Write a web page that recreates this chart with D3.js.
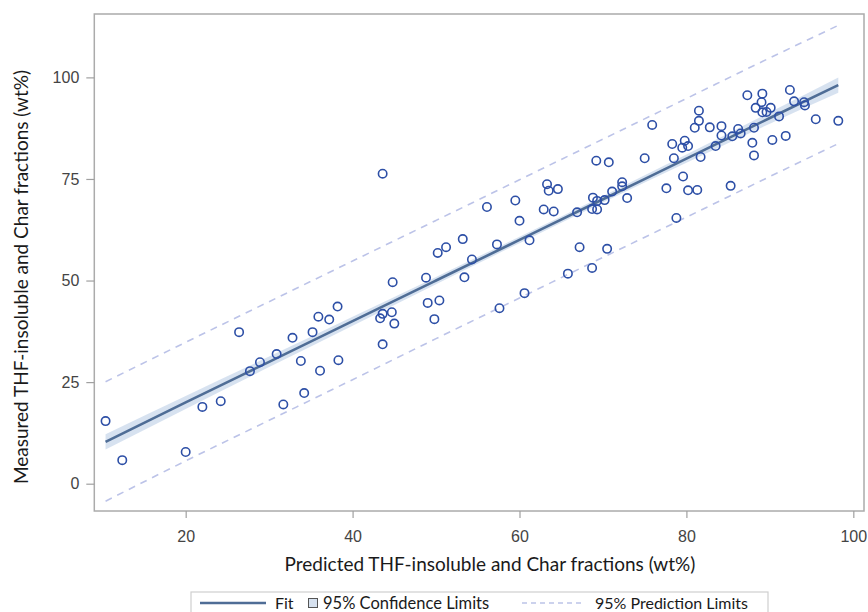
<!DOCTYPE html>
<html>
<head>
<meta charset="utf-8">
<script src="https://cdn.jsdelivr.net/npm/d3@7"></script>
<style>
  body { margin: 0; background: #fff; }
  #chart text { font-family: "Liberation Sans", Arial, sans-serif; }
  .axis-title, .legend-label { font-family: Lato, "Open Sans", sans-serif !important; fill: #1a1a1a; }
</style>
</head>
<body>
<div id="chart"></div>
<script>
// observed points: predicted (x) vs measured (y), wt%
const predicted = [10.4, 12.4, 20.0, 22.0, 24.2, 26.4, 27.7, 28.9, 30.9, 31.7,
  32.8, 33.8, 34.2, 35.2, 35.9, 36.1, 37.2, 38.2, 38.3, 43.6,
  43.6, 43.3, 44.7, 45.0, 43.6, 44.8, 48.8, 49.0, 50.4, 49.8,
  50.2, 51.2, 53.2, 53.4, 54.3, 56.1, 57.3, 57.6, 59.5, 60.0,
  60.6, 61.2, 62.9, 64.1, 63.3, 63.5, 64.6, 65.8, 66.9, 67.2,
  68.7, 68.7, 69.3, 68.8, 69.3, 70.2, 69.2, 70.7, 70.5, 71.1,
  72.3, 72.3, 72.9, 75.0, 75.9, 77.6, 78.3, 78.5, 78.8, 79.5,
  79.8, 80.2, 79.6, 80.2, 81.3, 81.0, 81.5, 81.5, 81.7, 82.8,
  83.5, 84.2, 84.2, 85.3, 85.5, 86.2, 86.5, 87.3, 87.9, 88.1,
  88.1, 88.3, 89.0, 89.1, 89.1, 89.6, 90.1, 90.3, 91.1, 91.9,
  92.4, 92.9, 94.1, 94.2, 95.5, 98.2];
const measured = [15.4, 5.8, 7.8, 18.9, 20.3, 37.3, 27.7, 29.9, 31.9, 19.5,
  35.9, 30.2, 22.3, 37.3, 41.1, 27.8, 40.4, 43.6, 30.4, 76.3,
  41.8, 40.7, 42.2, 39.4, 34.3, 49.6, 50.7, 44.5, 45.1, 40.5,
  56.8, 58.2, 60.2, 50.8, 55.2, 68.1, 58.9, 43.2, 69.7, 64.7,
  46.9, 59.9, 67.5, 67.0, 73.7, 72.1, 72.5, 51.7, 66.8, 58.2,
  53.1, 67.6, 67.5, 70.4, 69.6, 69.8, 79.5, 79.1, 57.8, 71.9,
  74.2, 73.2, 70.3, 80.1, 88.3, 72.7, 83.6, 80.1, 65.4, 82.7,
  84.4, 83.1, 75.6, 72.2, 72.3, 87.6, 91.8, 89.3, 80.4, 87.7,
  83.1, 88.0, 85.7, 73.3, 85.5, 87.3, 86.2, 95.6, 83.9, 87.6,
  80.8, 92.5, 93.9, 96.0, 91.4, 91.5, 92.5, 84.6, 90.4, 85.6,
  96.9, 94.1, 93.9, 93.1, 89.7, 89.3];

// regression fit and limits, read at these x positions
const bandX  = [10.4, 20, 30, 40, 50, 60, 70, 80, 90, 98.2];
const fitY   = [10.3, 20.0, 30.0, 40.0, 50.0, 60.0, 70.0, 80.0, 90.0, 98.1];
const confLo = [8.4, 18.4, 28.7, 38.9, 49.1, 59.2, 69.2, 79.0, 88.6, 96.2];
const confHi = [12.2, 21.6, 31.3, 41.1, 50.9, 60.8, 70.8, 81.0, 91.4, 100.0];
const predLo = [-4.3, 5.6, 15.6, 25.6, 35.7, 45.7, 55.7, 65.6, 75.6, 83.7];
const predHi = [25.1, 34.8, 44.8, 54.8, 64.8, 74.8, 84.8, 94.8, 104.8, 112.8];

const xTicks = [20, 40, 60, 80, 100];
const yTicks = [0, 25, 50, 75, 100];
const xTitle = 'Predicted THF-insoluble and Char fractions (wt%)';
const yTitle = 'Measured THF-insoluble and Char fractions (wt%)';

const W = 868, H = 612;
const frame = { left: 94.3, right: 864, top: 14, bottom: 511 };

const svg = d3.select('#chart').append('svg')
              .attr('width', W)
              .attr('height', H);

const xScale = d3.scaleLinear()
                 .domain([9.05, 101.28])
                 .range([frame.left, frame.right]);

const yScale = d3.scaleLinear()
                 .domain([-6.72, 115.6])
                 .range([frame.bottom, frame.top]);

const band = bandX.map((x, i) => ({
  x: x, fit: fitY[i], clo: confLo[i], chi: confHi[i], plo: predLo[i], phi: predHi[i]
}));

// confidence band
svg.append('path')
   .datum(band)
   .attr('fill', '#c6d6ea')
   .attr('opacity', 0.7)
   .attr('d', d3.area()
                .x(d => xScale(d.x))
                .y0(d => yScale(d.clo))
                .y1(d => yScale(d.chi))
                .curve(d3.curveMonotoneX));

// prediction limits
['plo', 'phi'].forEach(k => {
  svg.append('path')
     .datum(band)
     .attr('fill', 'none')
     .attr('stroke', '#bcc3e8')
     .attr('stroke-width', 1.6)
     .attr('stroke-dasharray', '7,6')
     .attr('d', d3.line()
                  .x(d => xScale(d.x))
                  .y(d => yScale(d[k]))
                  .curve(d3.curveMonotoneX));
});

// fit line
svg.append('path')
   .datum(band)
   .attr('fill', 'none')
   .attr('stroke', '#4f6d96')
   .attr('stroke-width', 2.6)
   .attr('d', d3.line()
                .x(d => xScale(d.x))
                .y(d => yScale(d.fit))
                .curve(d3.curveMonotoneX));

// points
svg.selectAll('.pt')
   .data(predicted.map((p, i) => ({ p: p, m: measured[i] })))
   .enter()
   .append('circle')
   .attr('class', 'pt')
   .attr('cx', d => xScale(d.p))
   .attr('cy', d => yScale(d.m))
   .attr('r', 4.2)
   .attr('fill', 'none')
   .attr('stroke', '#2d4fa6')
   .attr('stroke-width', 1.6);

// frame
svg.append('rect')
   .attr('x', frame.left)
   .attr('y', frame.top)
   .attr('width', frame.right - frame.left)
   .attr('height', frame.bottom - frame.top)
   .attr('fill', 'none')
   .attr('stroke', '#ababab')
   .attr('stroke-width', 1.5);

// axes
const xAxis = svg.append('g')
                 .attr('transform', `translate(0,${frame.bottom})`)
                 .call(d3.axisBottom(xScale).tickValues(xTicks).tickSize(7).tickPadding(13));
const yAxis = svg.append('g')
                 .attr('transform', `translate(${frame.left},0)`)
                 .call(d3.axisLeft(yScale).tickValues(yTicks).tickSize(8).tickPadding(7));

[xAxis, yAxis].forEach(a => {
  a.select('.domain').remove();
  a.selectAll('line').attr('stroke', '#a0a0a0').attr('stroke-width', 1.2);
  a.selectAll('text')
   .attr('fill', '#444')
   .style('font-size', '16px')
   .style('font-family', '"Liberation Sans", Arial, sans-serif');
});

// axis titles
svg.append('text')
   .attr('class', 'axis-title')
   .attr('x', 490)
   .attr('y', 571)
   .attr('text-anchor', 'middle')
   .style('font-size', '19px')
   .text(xTitle);

svg.append('text')
   .attr('class', 'axis-title')
   .attr('transform', 'translate(28,277) rotate(-90)')
   .attr('text-anchor', 'middle')
   .style('font-size', '19px')
   .text(yTitle);

// legend
const legend = svg.append('g').attr('id', 'legend');

legend.append('rect')
      .attr('x', 191)
      .attr('y', 592)
      .attr('width', 577)
      .attr('height', 30)
      .attr('fill', '#fff')
      .attr('stroke', '#cfcfcf')
      .attr('stroke-width', 1.2);

legend.append('line')
      .attr('x1', 200).attr('x2', 266)
      .attr('y1', 603).attr('y2', 603)
      .attr('stroke', '#4f6d96')
      .attr('stroke-width', 2.6);

legend.append('text')
      .attr('class', 'legend-label')
      .attr('x', 275).attr('y', 609)
      .style('font-size', '16px')
      .text('Fit');

legend.append('rect')
      .attr('x', 308.5).attr('y', 598.5)
      .attr('width', 9).attr('height', 9)
      .attr('fill', '#d6e1ef')
      .attr('stroke', '#555')
      .attr('stroke-width', 1);

legend.append('text')
      .attr('class', 'legend-label')
      .attr('x', 323).attr('y', 609)
      .style('font-size', '16.5px')
      .text('95% Confidence Limits');

legend.append('line')
      .attr('x1', 522).attr('x2', 585)
      .attr('y1', 603).attr('y2', 603)
      .attr('stroke', '#bcc3e8')
      .attr('stroke-width', 1.4)
      .attr('stroke-dasharray', '5,4');

legend.append('text')
      .attr('class', 'legend-label')
      .attr('x', 595).attr('y', 609)
      .style('font-size', '16px')
      .text('95% Prediction Limits');
</script>
</body>
</html>
